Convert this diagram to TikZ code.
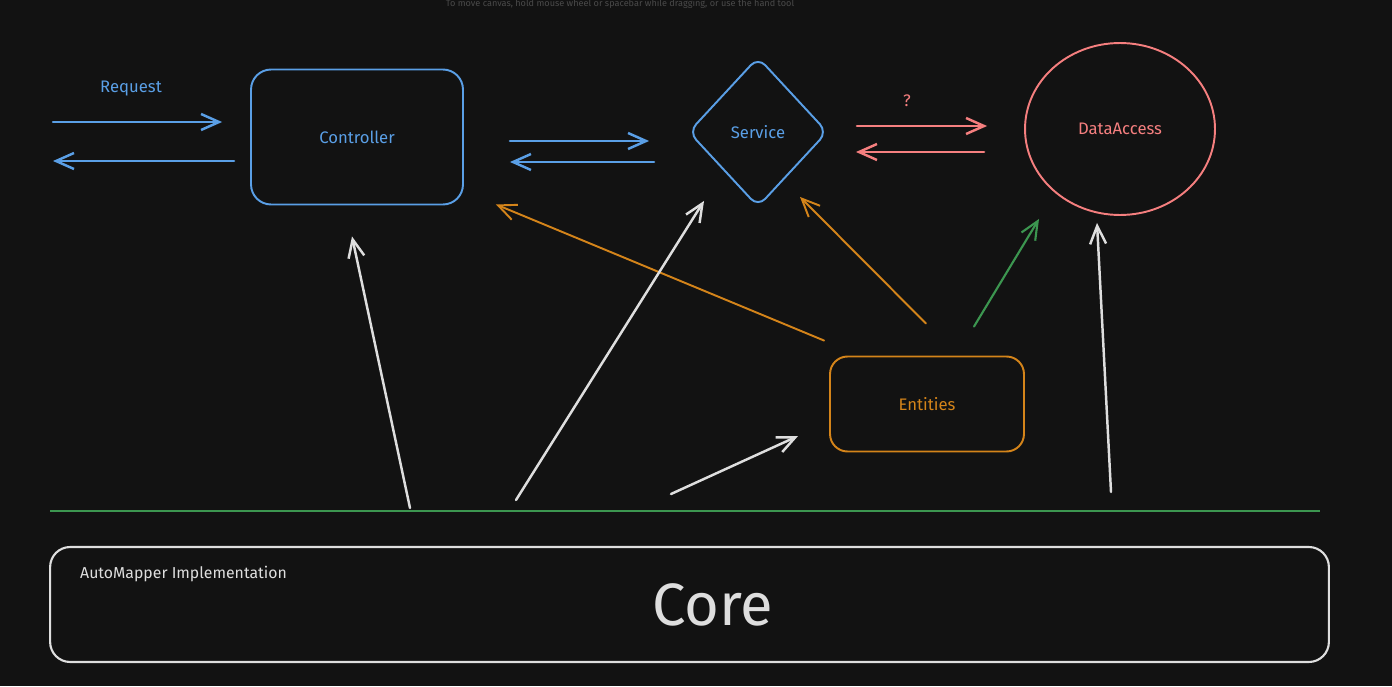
\documentclass[tikz,border=0pt]{standalone}
\usepackage{fontspec}
\setmainfont{Fira Sans}
\usetikzlibrary{positioning, shapes.geometric, arrows.meta, calc}
\definecolor{canvasBg}{HTML}{121212}
\definecolor{hintGray}{HTML}{4A4A4A}
\definecolor{excBlue}{HTML}{5A9FE6}
\definecolor{excRed}{HTML}{F57F7F}
\definecolor{excOrange}{HTML}{D4841A}
\definecolor{excGreen}{HTML}{3C9650}
\definecolor{coreWhite}{HTML}{DEDEDE}

\begin{document}
\begin{tikzpicture}[
  x=0.02cm, y=-0.02cm,
  font=\fontsize{9.5}{11}\selectfont,
  >={Straight Barb[length=3.6mm, width=3.2mm]},
  box/.style={draw, line width=1.1pt, rounded corners=0.4cm, inner sep=2pt},
  flow/.style={->, line width=1.4pt, line cap=round},
  flowblue/.style={flow, draw=excBlue},
  flowred/.style={flow, draw=excRed},
  floworange/.style={flow, draw=excOrange, line width=1.1pt},
  flowwhite/.style={flow, draw=coreWhite},
]
\useasboundingbox (0,0) rectangle (1392,686);
\fill[canvasBg] (0,0) rectangle (1392,686);
\node[text=hintGray, inner sep=0.5pt, font=\fontsize{5.2}{6}\selectfont] (hint) at (620,4)
  {To move canvas, hold mouse wheel or spacebar while dragging, or use the hand tool};

% ── layers ───────────────────────────────────────────────────────────────────
\node[box, draw=excBlue, text=excBlue, minimum width=4.24cm, minimum height=2.7cm]
  (controller) at (357,137) {Controller};
\node[diamond, draw=excBlue, text=excBlue, line width=1.1pt, rounded corners=6pt,
      inner sep=0pt, minimum width=2.78cm, minimum height=3.0cm]
  (service) at (758,132) {Service};
\node[ellipse, draw=excRed, text=excRed, line width=1.1pt,
      minimum width=3.8cm, minimum height=3.44cm]
  (dataaccess) at (1120,129) {DataAccess};
\node[box, draw=excOrange, text=excOrange, rounded corners=0.35cm,
      minimum width=3.88cm, minimum height=1.9cm]
  (entities) at (927,404) {Entities};

\node[text=excBlue] (request) at (131,89) {Request};
\node[text=excRed] (question) at (907,101) {?};

% request / response
\coordinate (client-in) at (53,122);
\coordinate (client-out) at (53,161);
\draw[flowblue, shorten >=0.56cm] (client-in) -- (client-in -| controller.west);
\draw[flowblue, shorten <=0.32cm] (controller.west |- client-out) -- (client-out);

% controller <-> service <-> data access
\draw[flowblue, shorten <=0.92cm, shorten >=0.77cm]
  ($(controller.east)+(0,4)$) -- ($(service.west)+(0,9)$);
\draw[flowblue, shorten <=0.67cm, shorten >=0.92cm]
  ($(service.west)+(0,30)$) -- ($(controller.east)+(0,25)$);
\draw[flowred, shorten <=0.57cm, shorten >=0.74cm]
  ($(service.east)+(0,-6)$) -- ($(dataaccess.west)+(0,-3)$);
\draw[flowred, shorten <=0.8cm, shorten >=0.55cm]
  ($(dataaccess.west)+(0,23)$) -- ($(service.east)+(0,20)$);

% entities used by the layers
\draw[floworange] ($(entities.north west)+(-5,-15)$) -- ($(controller.south east)+(32,-1)$);
\draw[floworange] ($(entities.north)+(-1,-32)$) -- ($(service.south)+(42,-11)$);
\draw[flow, draw=excGreen, line width=1.2pt]
  ($(entities.north)+(47,-29)$) -- ($(dataaccess.south)+(-81,3)$);

% ── core ─────────────────────────────────────────────────────────────────────
\coordinate (base-west) at (50,511);
\coordinate (base-east) at (1320,511);
\draw[draw=excGreen, line width=1.3pt] (base-west) -- (base-east);

\node[box, draw=coreWhite, line width=1.2pt, minimum width=25.58cm, minimum height=2.3cm]
  (core) at (689.5,604.5) {};
\node[text=coreWhite, font=\fontsize{34}{37}\selectfont] (corelabel) at (713,605) {Core};
\node[text=coreWhite, anchor=west, font=\fontsize{9}{11}\selectfont]
  (automapper) at (74,574) {AutoMapper Implementation};

\coordinate (up-ctrl) at (410,508);
\coordinate (up-serv) at (516,500);
\coordinate (up-ent)  at (671,494);
\coordinate (up-data) at (1111,492);
\coordinate (ctrl-in) at ($(controller.south)+(-5,31)$);
\coordinate (serv-in) at ($(service.south)+(-54,-7)$);
\coordinate (ent-in)  at ($(entities.west)+(-31,32)$);
\coordinate (data-in) at ($(dataaccess.south)+(-23,7)$);
\foreach \s/\t in {up-ctrl/ctrl-in, up-serv/serv-in, up-ent/ent-in, up-data/data-in}{
  \draw[flowwhite] (\s) -- (\t);
}

\end{tikzpicture}
\end{document}
